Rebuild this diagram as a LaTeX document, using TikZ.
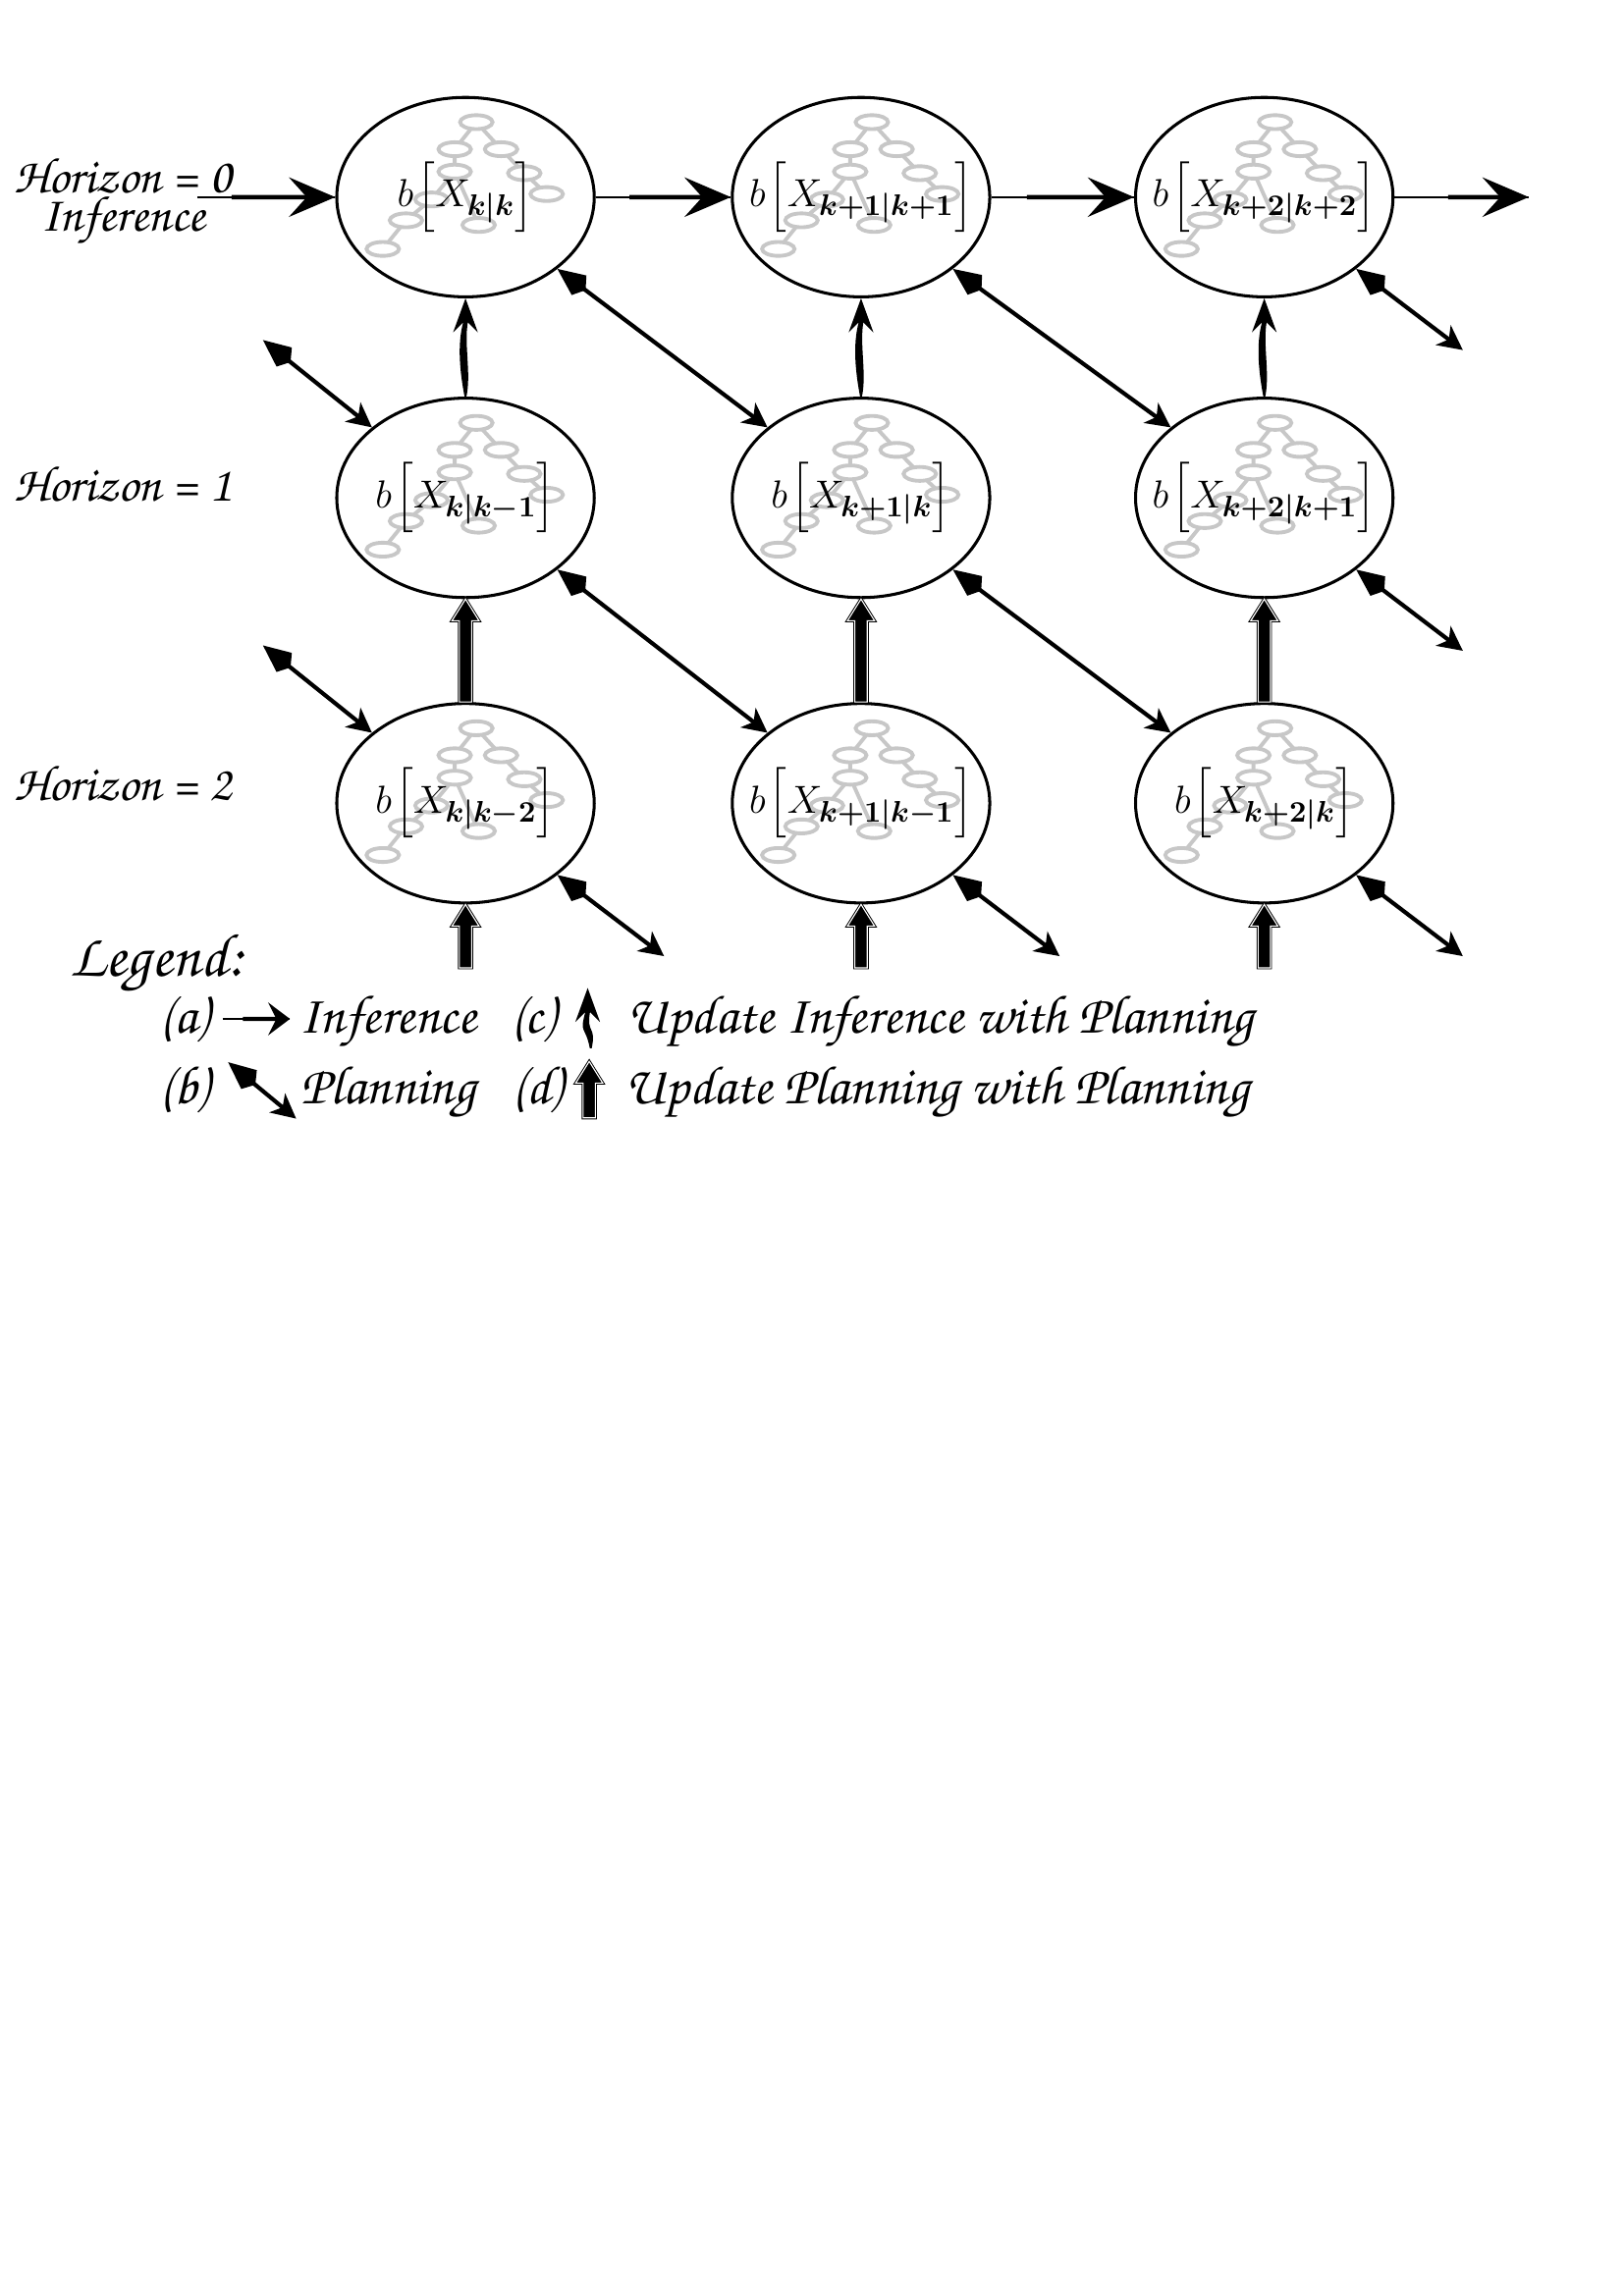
\documentclass[tikz,border=0pt]{standalone}
\usepackage[T1,TU]{fontenc}
\usepackage{bm,exscale}
\usetikzlibrary{arrows.meta,calc,shapes.geometric,backgrounds}
\definecolor{TreeClr}{gray}{0.78}
\newcommand\calli{\fontencoding{T1}\fontfamily{pzc}\fontseries{mb}\fontshape{it}\selectfont}
\newcommand\blf[1]{\makebox[0pt]{$b\mkern-1.5mu\left[\rule[-0.22cm]{0pt}{0.72cm}X_{\bm{#1}}\right]$}}
\newcommand\updarrow[2]{\filldraw[updplan] ($(#1)+(-.08,0)$) -- ($(#2)+(-.08,-.28)$) -- ($(#2)+(-.175,-.28)$) -- (#2)
  -- ($(#2)+(.175,-.28)$) -- ($(#2)+(.08,-.28)$) -- ($(#1)+(.08,0)$) -- cycle;}
\newcommand\updinf[2]{\fill ($(#1)+(.012,0)$) .. controls ($(#1)+(.075,.3)$) and ($(#2)+(-.02,-.6)$) .. ($(#2)+(.03,-.31)$)
  -- ($(#2)+(.16,-.44)$) -- (#2) -- ($(#2)+(-.16,-.44)$) -- ($(#2)+(-.03,-.31)$)
  .. controls ($(#2)+(-.11,-.6)$) and ($(#1)+(-.07,.3)$) .. ($(#1)+(-.012,0)$) -- cycle;}

\begin{document}
\begin{tikzpicture}[
  belief/.style={ellipse,draw,line width=1.1pt,minimum width=3.33cm,minimum height=2.58cm,inner sep=0pt,font=\fontsize{15}{18}\selectfont},
  hz/.style={inner sep=0pt,anchor=base,font=\calli\fontsize{18.5}{22}\selectfont},
  lg/.style={inner sep=0pt,anchor=base west,font=\calli\fontsize{20}{24}\selectfont},
  infthin/.style={line width=0.6pt},
  inf/.style={line width=1.6pt,-{Stealth[length=17pt,width=14.5pt,inset=6.5pt]}},
  plan/.style={line width=1.5pt,{Kite[length=13pt,width=9pt,inset=3pt]}-{Stealth[length=9pt,width=9pt,inset=2.5pt]}},
  updplan/.style={fill=black,draw=black,double=white,double distance=0.4pt,line width=0.35pt},
  treeedge/.style={draw=TreeClr,line width=1.4pt},
  treenode/.style={draw=TreeClr,line width=1.4pt,fill=white},
  bnet/.pic={
    \draw[treeedge] (0.14,0.97) -- (-0.14,0.62) -- (-0.14,0.33) -- (-0.44,-0.03) -- (-0.77,-0.3) -- (-1.07,-0.67)
      (0.14,0.97) -- (0.46,0.62) -- (0.76,0.31) -- (1.05,0.04) (-0.14,0.33) -- (0.17,-0.36);
    \foreach \x/\y in {0.14/0.97,-0.14/0.62,0.46/0.62,-0.14/0.33,0.76/0.31,1.05/0.04,-0.44/-0.03,-0.77/-0.3,-1.07/-0.67,0.17/-0.36}
      \draw[treenode] (\x,\y) ellipse [x radius=0.21,y radius=0.09];
  }]
\useasboundingbox (0,0) rectangle (21,-29.7);

\node[belief] (B00) at (6.02,-2.55) {\blf{k|k}};
\node[belief] (B01) at (11.135,-2.55) {\blf{k+1|k+1}};
\node[belief] (B02) at (16.35,-2.55) {\blf{k+2|k+2}};
\node[belief] (B10) at (6.02,-6.44) {\blf{k|k-1}};
\node[belief] (B11) at (11.135,-6.44) {\blf{k+1|k}};
\node[belief] (B12) at (16.35,-6.44) {\blf{k+2|k+1}};
\node[belief] (B20) at (6.02,-10.39) {\blf{k|k-2}};
\node[belief] (B21) at (11.135,-10.39) {\blf{k+1|k-1}};
\node[belief] (B22) at (16.35,-10.39) {\blf{k+2|k}};

\begin{scope}[on background layer]
\foreach \r in {0,1,2}{\foreach \c in {0,1,2}{\pic at (B\r\c) {bnet};}}
\end{scope}

\node[hz,align=center] (h0) at (1.59,-2.99) {Horizon = 0\\[-8pt]Inference};
\node[hz] (h1) at (1.59,-6.48) {Horizon = 1};
\node[hz] (h2) at (1.59,-10.35) {Horizon = 2};

\coordinate (i0) at (2.55,-2.55);
\coordinate (o0) at (19.77,-2.55);
\draw[infthin] (i0) -- (B00.west);
\draw[inf] ($(i0)!0.25!(B00.west)$) -- (B00.west);
\foreach \c/\d in {0/1,1/2}{
  \draw[infthin] (B0\c.east) -- (B0\d.west);
  \draw[inf] ($(B0\c.east)!0.25!(B0\d.west)$) -- (B0\d.west);}
\draw[infthin] (B02.east) -- (o0);
\draw[inf] ($(B02.east)!0.4!(o0)$) -- (o0);

\foreach \r/\s in {0/1,1/2}{\foreach \c/\d in {0/1,1/2}{\draw[plan] (B\r\c.-38) -- (B\s\d.143);}}
\foreach \r in {1,2}{
  \coordinate (p\r) at ($(B\r0.143)+(-1.41,1.13)$);
  \draw[plan] (p\r) -- (B\r0.143);}
\foreach \n in {02,12,22,20,21}{
  \coordinate (q\n) at ($(B\n.-38)+(1.38,-1.05)$);
  \draw[plan] (B\n.-38) -- (q\n);}

\foreach \c in {0,1,2}{
  \updinf{B1\c.north}{B0\c.south}
  \coordinate (u\c) at ($(B2\c.south)+(0,-0.82)$);
  \updarrow{B2\c.north}{B1\c.south}
  \updarrow{u\c}{B2\c.south}}

\node[lg,font=\calli\fontsize{22.5}{27}\selectfont] (leg) at (0.9,-12.63) {Legend:};
\node[lg] (la) at (2.06,-13.37) {(a)};
\node[lg] (lat) at (3.86,-13.37) {Inference};
\node[lg] (lc) at (6.6,-13.37) {(c)};
\node[lg] (lct) at (8.1,-13.37) {Update Inference with Planning};
\node[lg] (lb) at (2.06,-14.28) {(b)};
\node[lg] (lbt) at (3.88,-14.28) {Planning};
\node[lg] (ld) at (6.62,-14.28) {(d)};
\node[lg] (ldt) at (8.08,-14.28) {Update Planning with Planning};

\coordinate (a0) at (2.88,-13.18);
\coordinate (a1) at (3.75,-13.18);
\draw[infthin] (a0) -- (a1);
\draw[inf,-{Stealth[length=8pt,width=12pt,inset=3pt]}] ($(a0)!0.3!(a1)$) -- (a1);
\coordinate (b0) at (2.95,-13.74);
\coordinate (b1) at (3.83,-14.47);
\draw[plan] (b0) -- (b1);
\coordinate (c0) at (7.64,-13.56);
\coordinate (c1) at (7.6,-12.78);
\updinf{c0}{c1}
\coordinate (d0) at (7.62,-14.46);
\coordinate (d1) at (7.62,-13.73);
\updarrow{d0}{d1}
\end{tikzpicture}
\end{document}
